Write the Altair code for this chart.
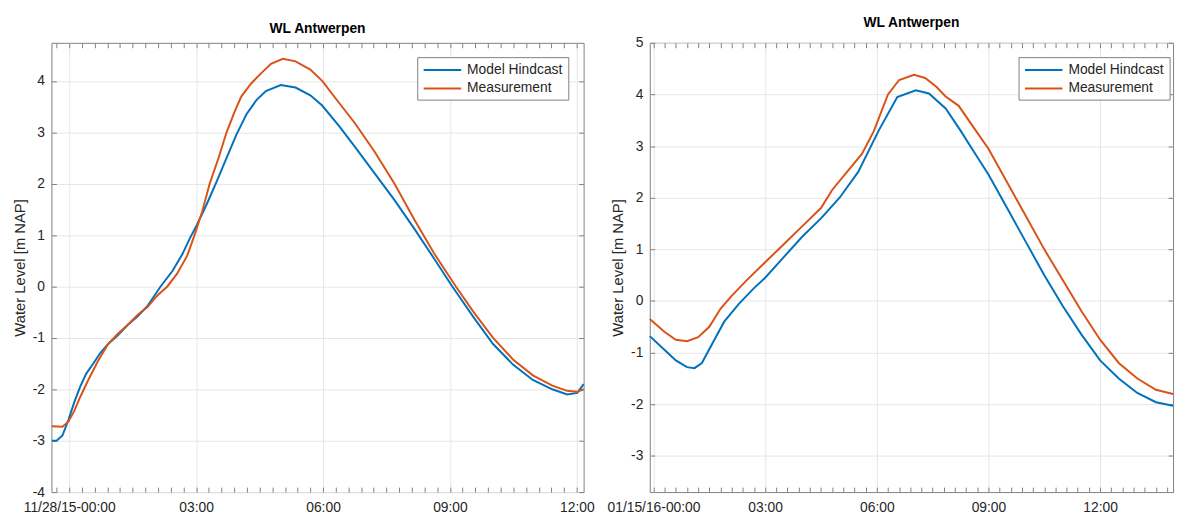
import altair as alt
import pandas as pd

FONT = "Liberation Sans"
TXT = "#262626"
FRAME = "#808080"
GRID = "#e6e6e6"
SERIES = ["Model Hindcast", "Measurement"]
COLORS = ["#0072BD", "#D95319"]
TITLE = "WL Antwerpen"
YTITLE = "Water Level [m NAP]"

# ---------------- left panel (11/28/15) ----------------
L_X_DOMAIN = [-0.42, 12.16]
L_Y_DOMAIN = [-4, 4.74]
L_X_TICKS = [0, 3, 6, 9, 12]
L_X_LABELS = ["11/28/15-00:00", "03:00", "06:00", "09:00", "12:00"]
L_Y_TICKS = [-4, -3, -2, -1, 0, 1, 2, 3, 4]
L_MODEL_H = [-0.41, -0.30, -0.16, -0.02, 0.12, 0.26, 0.40, 0.57, 0.73, 0.92, 1.15, 1.38, 1.62, 1.85,
             2.16, 2.44, 2.67, 2.86, 3.02, 3.25, 3.49, 3.72, 3.95, 4.19, 4.42, 4.65, 5.00, 5.35, 5.70,
             5.98, 6.40, 6.75, 7.22, 7.69, 8.16, 8.62, 9.04, 9.56, 10.02, 10.49, 10.96, 11.42, 11.77,
             12.01, 12.16]
L_MODEL_WL = [-3.0, -3.0, -2.9, -2.6, -2.25, -1.95, -1.7, -1.5, -1.3, -1.12, -0.95, -0.75, -0.58, -0.38,
              0.0, 0.3, 0.62, 0.95, 1.2, 1.6, 2.05, 2.5, 2.95, 3.35, 3.62, 3.8, 3.92, 3.87, 3.72,
              3.52, 3.1, 2.72, 2.2, 1.68, 1.12, 0.55, 0.02, -0.6, -1.12, -1.52, -1.82, -2.0, -2.1,
              -2.07, -1.9]
L_MEAS_H = [-0.41, -0.16, -0.02, 0.12, 0.26, 0.45, 0.68, 0.92, 1.15, 1.38, 1.62, 1.85, 2.09, 2.32,
            2.55, 2.79, 2.95, 3.14, 3.32, 3.53, 3.72, 3.91, 4.07, 4.30, 4.54, 4.77, 5.05, 5.35, 5.70,
            5.98, 6.40, 6.75, 7.22, 7.69, 8.16, 8.62, 9.14, 9.56, 10.02, 10.49, 10.96, 11.42, 11.77,
            12.01, 12.16]
L_MEAS_WL = [-2.72, -2.73, -2.63, -2.42, -2.15, -1.82, -1.45, -1.12, -0.92, -0.75, -0.55, -0.4, -0.17, 0.0,
             0.25, 0.6, 0.97, 1.45, 2.0, 2.5, 3.0, 3.4, 3.7, 3.95, 4.15, 4.33, 4.43, 4.38, 4.22,
             4.0, 3.55, 3.18, 2.62, 2.0, 1.3, 0.65, 0.0, -0.5, -1.0, -1.42, -1.73, -1.93, -2.03,
             -2.05, -2.0]

# ---------------- right panel (01/15/16) ----------------
R_X_DOMAIN = [-0.1, 13.96]
R_Y_DOMAIN = [-3.7, 5]
R_X_TICKS = [0, 3, 6, 9, 12]
R_X_LABELS = ["01/15/16-00:00", "03:00", "06:00", "09:00", "12:00"]
R_Y_TICKS = [-3, -2, -1, 0, 1, 2, 3, 4, 5]
R_MODEL_H = [-0.1, 0.3, 0.6, 0.9, 1.1, 1.3, 1.6, 1.9, 2.3, 2.7, 3.0, 3.5, 4.0, 4.5, 5.0, 5.5, 6.05,
             6.55, 7.05, 7.4, 7.85, 8.25, 8.6, 9.0, 9.5, 10.0, 10.5, 11.0, 11.5, 12.0, 12.5, 13.0,
             13.5, 13.96]
R_MODEL_WL = [-0.68, -0.95, -1.15, -1.28, -1.3, -1.2, -0.8, -0.4, -0.05, 0.25, 0.45, 0.85, 1.25, 1.6,
              2.0, 2.5, 3.3, 3.95, 4.08, 4.02, 3.73, 3.3, 2.9, 2.45, 1.8, 1.15, 0.5, -0.1, -0.65,
              -1.15, -1.5, -1.78, -1.96, -2.03]
R_MEAS_H = [-0.1, 0.3, 0.6, 0.9, 1.2, 1.5, 1.8, 2.1, 2.5, 3.0, 3.5, 4.0, 4.5, 4.8, 5.2, 5.6, 5.92,
            6.3, 6.6, 7.0, 7.3, 7.6, 7.85, 8.2, 8.67, 9.0, 9.5, 10.0, 10.5, 11.0, 11.5, 12.0, 12.5,
            13.0, 13.5, 13.96]
R_MEAS_WL = [-0.35, -0.6, -0.75, -0.78, -0.7, -0.5, -0.15, 0.1, 0.4, 0.75, 1.1, 1.45, 1.8, 2.15,
             2.5, 2.85, 3.29, 4.0, 4.28, 4.38, 4.32, 4.15, 3.96, 3.78, 3.29, 2.95, 2.3, 1.65, 1.0,
             0.4, -0.2, -0.75, -1.2, -1.5, -1.72, -1.8]


def label_expr(values, labels):
    expr = "''"
    for v, lab in reversed(list(zip(values, labels))):
        expr = f"datum.value == {v} ? '{lab}' : ({expr})"
    return expr


def minor_ticks(domain, step=0.3):
    vals = []
    k = int(domain[0] / step) - 1
    while k * step <= domain[1]:
        v = round(k * step, 2)
        if domain[0] <= v <= domain[1]:
            vals.append(v)
        k += 1
    return vals


def tick_axis(orient, vals):
    return alt.Axis(orient=orient, values=vals, labels=False, domain=False, grid=False,
                    ticks=True, tickSize=5, tickColor=FRAME, tickWidth=1, offset=-5, title=None)


def panel(mh, mwl, oh, owl, xdom, ydom, xt, xl, yt, width, height, legend_right):
    df_m = pd.DataFrame({"t": mh, "wl": mwl, "s": SERIES[0]})
    df_o = pd.DataFrame({"t": oh, "wl": owl, "s": SERIES[1]})
    xs = alt.Scale(domain=xdom, nice=False, zero=False)
    ys = alt.Scale(domain=ydom, nice=False, zero=False)
    main_x = alt.Axis(orient="bottom", values=xt, labelExpr=label_expr(xt, xl), ticks=False,
                      domain=False, grid=True, gridColor=GRID, labelFontSize=14, labelFont=FONT,
                      labelColor=TXT, labelPadding=9, labelFlush=False, labelOverlap=False, title=None)
    main_y = alt.Axis(orient="left", values=yt, ticks=False, domain=False, grid=True, gridColor=GRID,
                      labelFontSize=14, labelFont=FONT, labelColor=TXT, labelPadding=7,
                      labelFlush=False, labelOverlap=False, labelExpr="toString(datum.value)",
                      title=YTITLE, titleFontSize=15, titleFont=FONT, titleFontWeight="normal",
                      titleColor=TXT, titlePadding=5)
    mnr = minor_ticks(xdom)
    blue = alt.Chart(df_m).mark_line(color=COLORS[0], strokeWidth=2).encode(
        x=alt.X("t:Q", scale=xs, axis=main_x), y=alt.Y("wl:Q", scale=ys, axis=main_y))
    red = alt.Chart(df_o).mark_line(color=COLORS[1], strokeWidth=2).encode(
        x=alt.X("t:Q", scale=xs, axis=tick_axis("bottom", mnr)),
        y=alt.Y("wl:Q", scale=ys, axis=tick_axis("left", yt)))
    ghost = alt.Chart(df_o).mark_line(strokeOpacity=0).encode(
        x=alt.X("t:Q", scale=xs, axis=tick_axis("top", mnr)),
        y=alt.Y("wl:Q", scale=ys, axis=tick_axis("right", yt)))
    lw, lh = 153, 43
    lx = width - legend_right - lw
    ly = 15
    box = alt.Chart(pd.DataFrame({"s": ["box"]})).mark_rect(
        fill="white", stroke=FRAME, strokeWidth=1).encode(
        x=alt.value(lx), x2=alt.value(lx + lw), y=alt.value(ly), y2=alt.value(ly + lh))
    leg = [box]
    for i, (name, col) in enumerate(zip(SERIES, COLORS)):
        yy = ly + 12.5 + 18.7 * i
        d = pd.DataFrame({"name": [name]})
        leg.append(alt.Chart(d).mark_rule(color=col, strokeWidth=2).encode(
            x=alt.value(lx + 6), x2=alt.value(lx + 44), y=alt.value(yy)))
        leg.append(alt.Chart(d).mark_text(align="left", baseline="middle", fontSize=14, font=FONT,
                                          color=TXT).encode(
            x=alt.value(lx + 50), y=alt.value(yy), text="name:N"))
    return alt.layer(blue, red, ghost, *leg).resolve_axis(x="independent", y="independent").properties(
        width=width, height=height,
        title=alt.TitleParams(TITLE, fontSize=14, fontWeight="bold", font=FONT, color="#000000",
                              offset=6, anchor="middle", frame="group"))


left = panel(L_MODEL_H, L_MODEL_WL, L_MEAS_H, L_MEAS_WL, L_X_DOMAIN, L_Y_DOMAIN,
             L_X_TICKS, L_X_LABELS, L_Y_TICKS, 539, 455, 15)
right = panel(R_MODEL_H, R_MODEL_WL, R_MEAS_H, R_MEAS_WL, R_X_DOMAIN, R_Y_DOMAIN,
              R_X_TICKS, R_X_LABELS, R_Y_TICKS, 530, 455, 3)

chart = alt.hconcat(left, right, spacing=11).properties(
    padding={"left": 4, "top": 4, "right": 0, "bottom": 0}, background="white"
).configure_view(stroke=FRAME, strokeWidth=1)

chart.save("out.html", embed_options={"renderer": "svg", "actions": False})
